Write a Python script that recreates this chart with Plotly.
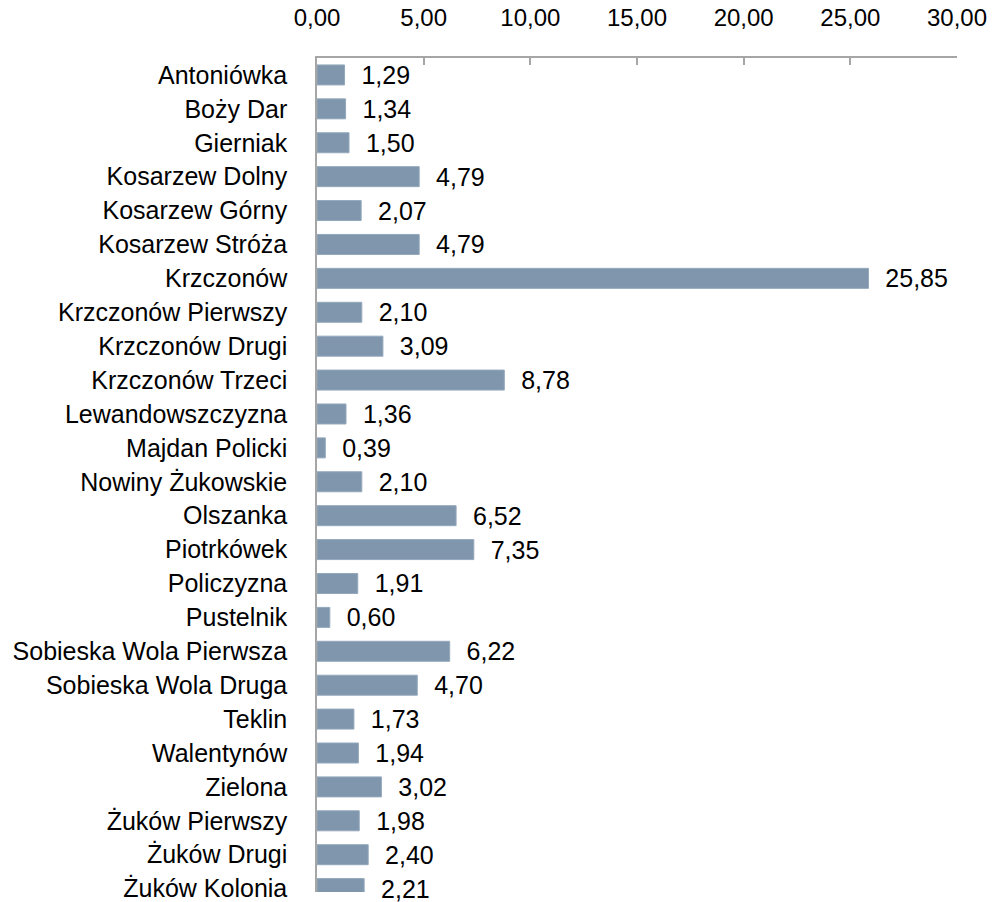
import plotly.graph_objects as go

categories = ["Antoniówka", "Boży Dar", "Gierniak", "Kosarzew Dolny", "Kosarzew Górny",
              "Kosarzew Stróża", "Krzczonów", "Krzczonów Pierwszy", "Krzczonów Drugi",
              "Krzczonów Trzeci", "Lewandowszczyzna", "Majdan Policki", "Nowiny Żukowskie",
              "Olszanka", "Piotrkówek", "Policzyzna", "Pustelnik", "Sobieska Wola Pierwsza",
              "Sobieska Wola Druga", "Teklin", "Walentynów", "Zielona", "Żuków Pierwszy",
              "Żuków Drugi", "Żuków Kolonia"]
values = [1.29, 1.34, 1.50, 4.79, 2.07, 4.79, 25.85, 2.10, 3.09, 8.78, 1.36, 0.39, 2.10,
          6.52, 7.35, 1.91, 0.60, 6.22, 4.70, 1.73, 1.94, 3.02, 1.98, 2.40, 2.21]
x_ticks = [0, 5, 10, 15, 20, 25, 30]

font_family = "Liberation Sans, Arial, sans-serif"

fig = go.Figure(go.Bar(
    y=categories, x=values, orientation="h",
    marker=dict(color="#7F96AD", line=dict(color="#94A8BC", width=1)),
    width=0.59,
    text=["\u00a0\u00a0" + f"{v:.2f}".replace(".", ",") for v in values],
    textposition="outside",
    constraintext="none",
    textfont=dict(size=25, color="#000000", family=font_family),
    cliponaxis=False,
))

fig.update_layout(
    width=992, height=902,
    margin=dict(l=317, r=35, t=58, b=0),
    paper_bgcolor="white", plot_bgcolor="white",
    showlegend=False,
    separators=", ",
    font=dict(family=font_family, size=25, color="#000000"),
    xaxis=dict(
        side="top", range=[0, 30], tickvals=x_ticks,
        ticktext=[f"{t:.2f}".replace(".", ",") for t in x_ticks],
        showgrid=False, zeroline=False,
        showline=True, linecolor="#A6A6A6", linewidth=1.5,
        ticks="inside", ticklen=7, tickcolor="#A6A6A6", tickwidth=1.5,
        ticklabelstandoff=21,
        tickfont=dict(size=24),
    ),
    yaxis=dict(
        range=[24.1, -0.5], showgrid=False, zeroline=False,
        showline=True, linecolor="#A6A6A6", linewidth=1.5,
        ticks="", ticklabelstandoff=23,
        tickfont=dict(size=25),
    ),
)

fig.write_html(
    "out.html",
    config={"displayModeBar": False},
    post_script="document.body.style.margin='0';document.body.style.overflow='hidden';",
)
